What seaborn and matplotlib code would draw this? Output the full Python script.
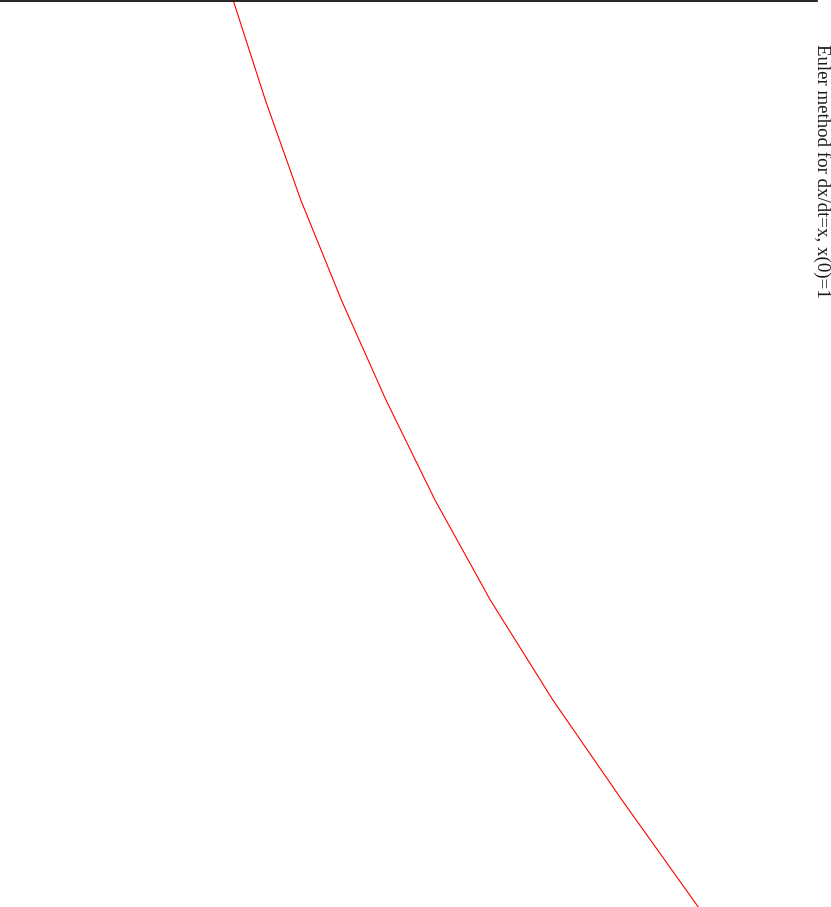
import matplotlib
matplotlib.use("Agg")
import matplotlib.pyplot as plt
import seaborn as sns
import pandas as pd

# values read from the (rotated) reference chart
t_values = [0.0, 0.1323, 0.2646, 0.3969, 0.5292, 0.6615, 0.7938, 0.9261,
            1.0584, 1.2]
x_values = [1.000, 1.138, 1.290, 1.464, 1.655, 1.865, 2.102, 2.370,
            2.666, 2.993]
title_text = "Euler method for dx/dt=x, x(0)=1"

df = pd.DataFrame({"t": t_values, "x": x_values})

sns.set_theme(style="white")
fig = plt.figure(figsize=(8.31, 9.07), dpi=100)
ax = fig.add_axes([0, 0, 817 / 831, 1 - 0.6 / 907])
sns.lineplot(data=df, x="x", y="t", sort=False, color="#ff0000",
             linewidth=0.8, ax=ax)
ax.set_xlim(0, 817 / 233.3)
ax.set_ylim(1.2, 0)
ax.set_xlabel("")
ax.set_ylabel("")
ax.set_xticks([])
ax.set_yticks([])
for s in ["left", "right", "bottom"]:
    ax.spines[s].set_visible(False)
ax.spines["top"].set_color("black")
ax.spines["top"].set_linewidth(1.2)

fig.text(822 / 831, 1 - 44 / 907, title_text, rotation=270,
         ha="center", va="top", fontsize=13.6, family="Liberation Serif",
         color="#1a1a1a")

fig.savefig("out.png", dpi=100, facecolor="white")
